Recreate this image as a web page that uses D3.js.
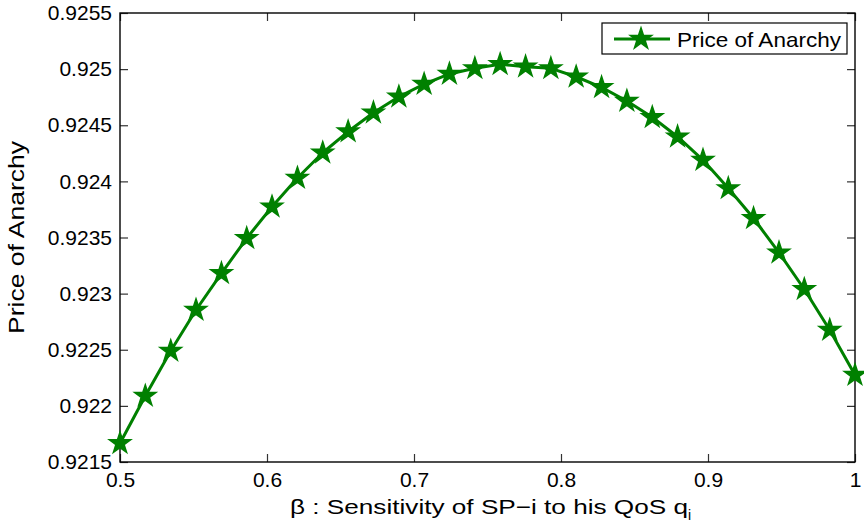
<!DOCTYPE html>
<html>
<head>
<meta charset="utf-8">
<script src="https://cdn.jsdelivr.net/npm/d3@7"></script>
<style>
  html, body { margin: 0; padding: 0; background: #fff; }
  svg text, svg tspan { font-family: "Liberation Sans", Arial, Helvetica, sans-serif; fill: #000; }
</style>
</head>
<body>
<svg id="chart" width="864" height="527"></svg>
<script>
// beta values (x) and price of anarchy (y)
var betas = [0.5, 0.5172, 0.5345, 0.5517, 0.5690, 0.5862, 0.6034, 0.6207, 0.6379, 0.6552,
             0.6724, 0.6897, 0.7069, 0.7241, 0.7414, 0.7586, 0.7759, 0.7931, 0.8103, 0.8276,
             0.8448, 0.8621, 0.8793, 0.8966, 0.9138, 0.9310, 0.9483, 0.9655, 0.9828, 1.0];
var poa = [0.921667, 0.922088, 0.922489, 0.922854, 0.923181, 0.923493, 0.923774, 0.924030, 0.924255, 0.924444,
           0.924612, 0.924754, 0.924867, 0.924957, 0.925007, 0.925043, 0.925022, 0.925007, 0.924932, 0.924838,
           0.924716, 0.924571, 0.924398, 0.924190, 0.923938, 0.923671, 0.923365, 0.923039, 0.922676, 0.922275];
var xTicks = [0.5, 0.6, 0.7, 0.8, 0.9, 1];
var yTicks = [0.9215, 0.922, 0.9225, 0.923, 0.9235, 0.924, 0.9245, 0.925, 0.9255];
var seriesName = "Price of Anarchy";

var plot = { left: 120, right: 855, top: 13, bottom: 462 };
var green = "#008000";

var svg = d3.select("#chart");
var x = d3.scaleLinear().domain([0.5, 1]).range([plot.left, plot.right]);
var y = d3.scaleLinear().domain([0.9215, 0.9255]).range([plot.bottom, plot.top]);
var fmt = function (d) { return String(+d.toFixed(4)); };

// axes: ticks point inwards on all four sides
var gx = svg.append("g").attr("transform", "translate(0," + plot.bottom + ")")
    .call(d3.axisBottom(x).tickValues(xTicks).tickSize(-8).tickPadding(10).tickFormat(fmt));
var gxt = svg.append("g").attr("transform", "translate(0," + plot.top + ")")
    .call(d3.axisTop(x).tickValues(xTicks).tickSize(-8).tickFormat(""));
var gy = svg.append("g").attr("transform", "translate(" + plot.left + ",0)")
    .call(d3.axisLeft(y).tickValues(yTicks).tickSize(-8).tickPadding(8).tickFormat(fmt));
var gyr = svg.append("g").attr("transform", "translate(" + plot.right + ",0)")
    .call(d3.axisRight(y).tickValues(yTicks).tickSize(-8).tickFormat(""));

[gx, gxt, gy, gyr].forEach(function (g) {
    g.select(".domain").remove();
    g.selectAll(".tick line").attr("stroke", "#333").attr("stroke-width", 1.2);
    g.selectAll(".tick text").style("font-size", "21px");
});

svg.append("rect")
    .attr("x", plot.left).attr("y", plot.top)
    .attr("width", plot.right - plot.left).attr("height", plot.bottom - plot.top)
    .attr("fill", "none").attr("stroke", "#000").attr("stroke-width", 1.4);

// series
var pts = betas.map(function (b, i) { return [b, poa[i]]; });
var line = d3.line().x(function (d) { return x(d[0]); }).y(function (d) { return y(d[1]); });
svg.append("path").datum(pts)
    .attr("d", line)
    .attr("fill", "none").attr("stroke", green).attr("stroke-width", 3)
    .attr("stroke-linejoin", "round");

var star = d3.symbol().type(d3.symbolStar).size(140);
svg.append("g").selectAll("path")
    .data(pts).enter().append("path")
    .attr("d", star)
    .attr("transform", function (d) { return "translate(" + x(d[0]) + "," + y(d[1]) + ")"; })
    .attr("fill", green).attr("stroke", green).attr("stroke-width", 1.5);

// legend
var lg = svg.append("g");
lg.append("rect").attr("x", 602).attr("y", 23).attr("width", 245).attr("height", 31)
    .attr("fill", "#fff").attr("stroke", "#000").attr("stroke-width", 1.2);
lg.append("line").attr("x1", 614).attr("x2", 670).attr("y1", 39).attr("y2", 39)
    .attr("stroke", green).attr("stroke-width", 3);
lg.append("path").attr("d", star).attr("transform", "translate(641,39)")
    .attr("fill", green).attr("stroke", green).attr("stroke-width", 1.5);
lg.append("text").attr("x", 677).attr("y", 47)
    .style("font-size", "21px").attr("textLength", 164).attr("lengthAdjust", "spacingAndGlyphs")
    .text(seriesName);

// axis labels
var xl = svg.append("text")
    .attr("x", 290).attr("y", 514)
    .style("font-size", "21px");
xl.append("tspan").attr("textLength", 398).attr("lengthAdjust", "spacingAndGlyphs")
    .text("\u03b2 : Sensitivity of SP\u2212i to his QoS q");
xl.append("tspan").attr("dy", 6).style("font-size", "14px").text("i");

svg.append("text")
    .attr("transform", "translate(24," + ((plot.top + plot.bottom) / 2) + ") rotate(-90)")
    .attr("text-anchor", "middle")
    .style("font-size", "22px")
    .attr("textLength", 193).attr("lengthAdjust", "spacingAndGlyphs")
    .text("Price of Anarchy");
</script>
</body>
</html>
